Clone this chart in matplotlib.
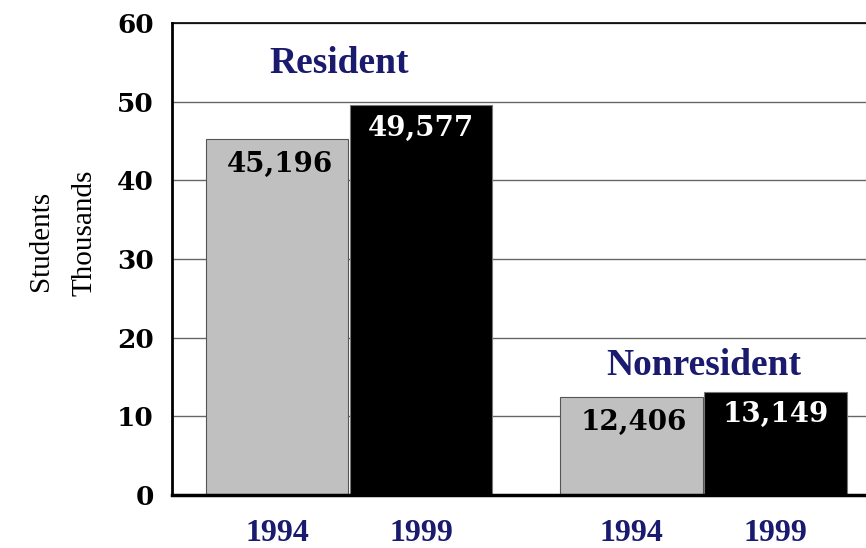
import matplotlib.pyplot as plt

# data (thousands of students)
groups = ["Resident", "Nonresident"]
years = ["1994", "1999"]
vals_1994 = [45.196, 12.406]
vals_1999 = [49.577, 13.149]
labels_1994 = ["45,196", "12,406"]
labels_1999 = ["49,577", "13,149"]

navy = "#1a1a6e"
heavy = "DejaVu Serif"
serif = "Liberation Serif"

fig = plt.figure(figsize=(8.66, 5.48), dpi=100)
ax = fig.add_axes([0.1986, 0.0967, 0.8014, 0.8613])

centers = [1.23, 3.69]
w = 0.99
x94 = [c - 0.5 for c in centers]
x99 = [c + 0.5 for c in centers]

b1 = ax.bar(x94, vals_1994, width=w, color="#c0c0c0", edgecolor="#555555", linewidth=0.8, zorder=3)
b2 = ax.bar(x99, vals_1999, width=w, color="black", edgecolor="#777777", linewidth=0.8, zorder=3)

# value labels inside the bars
for r, t in zip(b1, labels_1994):
    ax.annotate(t, (r.get_x() + r.get_width() / 2, r.get_height()), xytext=(2, -8),
                textcoords="offset points", ha="center", va="top",
                fontsize=20, fontweight="heavy", family=heavy, color="black", zorder=4)
for r, t in zip(b2, labels_1999):
    ax.annotate(t, (r.get_x() + r.get_width() / 2, r.get_height()), xytext=(0, -7),
                textcoords="offset points", ha="center", va="top",
                fontsize=20, fontweight="heavy", family=heavy, color="white", zorder=4)

# group titles above bars
for c, g, v, dx, dy in zip(centers, groups, vals_1999, [-7, 0], [30, 19]):
    ax.annotate(g, (c, v), xytext=(dx, dy), textcoords="offset points", ha="center",
                va="center", fontsize=27, fontweight="bold", family=serif, color=navy)

ax.set_xlim(0, 4.82)
ax.set_ylim(0, 60)
ax.set_yticks(range(0, 61, 10))
ax.set_yticklabels([str(v) for v in range(0, 61, 10)], fontsize=19,
                   fontweight="heavy", family=heavy)
ax.tick_params(axis="y", length=0, pad=13)
ax.set_xticks(x94 + x99)
ax.set_xticklabels(years[:1] * 2 + years[1:] * 2, fontsize=23, fontweight="bold",
                   family=serif, color=navy)
ax.tick_params(axis="x", length=0, pad=17)
ax.yaxis.grid(True, color="#666666", linewidth=1, zorder=0)

ax.spines["right"].set_visible(False)
ax.spines["left"].set_linewidth(2)
ax.spines["top"].set_linewidth(1.2)
ax.spines["bottom"].set_linewidth(2.5)
for s in ax.spines.values():
    s.set_zorder(5)

fig.text(0.047, 0.56, "Students", rotation=90, ha="center", va="center",
         fontsize=21, family=serif)
fig.text(0.097, 0.575, "Thousands", rotation=90, ha="center", va="center",
         fontsize=21, family=serif)

fig.savefig("out.png", dpi=100)
